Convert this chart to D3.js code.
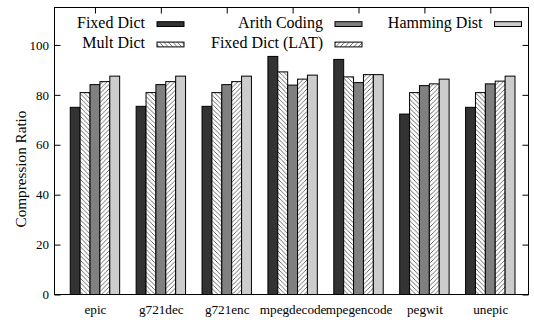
<!DOCTYPE html>
<html>
<head>
<meta charset="utf-8">
<script src="https://cdn.jsdelivr.net/npm/d3@7/dist/d3.min.js"></script>
<style>
  html, body { margin: 0; padding: 0; background: #fff; }
  svg { display: block; }
  svg text { font-family: "Liberation Serif", "Tinos", "Times New Roman", Times, "DejaVu Serif", serif !important; fill: #000; }
</style>
</head>
<body>
<svg id="chart" width="534" height="322"></svg>
<script>
// Benchmarks along the x axis
const categories = ["epic", "g721dec", "g721enc", "mpegdecode", "mpegencode", "pegwit", "unepic"];

// Compression ratio (%) per scheme, one value per benchmark
const fixedDict    = [75.0, 75.4, 75.4, 95.4, 94.2, 72.3, 75.0];
const multDict     = [80.9, 80.9, 80.9, 89.2, 87.2, 80.9, 80.9];
const arithCoding  = [84.1, 84.1, 84.1, 83.9, 84.9, 83.7, 84.4];
const fixedDictLat = [85.3, 85.3, 85.3, 86.3, 88.1, 84.4, 85.5];
const hammingDist  = [87.5, 87.5, 87.5, 87.9, 88.1, 86.3, 87.5];

const seriesNames = ["Fixed Dict", "Mult Dict", "Arith Coding", "Fixed Dict (LAT)", "Hamming Dist"];
const seriesValues = [fixedDict, multDict, arithCoding, fixedDictLat, hammingDist];
const yTicks = [0, 20, 40, 60, 80, 100];

const fills = ["#333333", "url(#hatchBack)", "#808080", "url(#hatchFwd)", "#cccccc"];

const svg = d3.select("#chart");
const plotL = 54.5, plotR = 528.5, plotT = 7.5, plotB = 294.5;

// hatch patterns
const defs = svg.append("defs");
function hatch(id, dir) {
  const p = defs.append("pattern")
    .attr("id", id).attr("patternUnits", "userSpaceOnUse")
    .attr("width", 4.5).attr("height", 4.5);
  p.append("rect").attr("width", 4.5).attr("height", 4.5).attr("fill", "#fff");
  const d = dir > 0
    ? "M-1,5.5 L5.5,-1 M-1,1 L1,-1 M3.5,5.5 L5.5,3.5"
    : "M-1,-1 L5.5,5.5 M3.5,-1 L5.5,1 M-1,3.5 L1,5.5";
  p.append("path").attr("d", d).attr("stroke", "#444").attr("stroke-width", 0.8);
}
hatch("hatchBack", -1);
hatch("hatchFwd", 1);

const x = d3.scaleLinear().domain([-0.614, 6.58]).range([plotL, plotR]);
const y = d3.scaleLinear().domain([0, 115]).range([plotB, plotT]);
const barW = 0.15;
const offsets = seriesNames.map((_, j) => (j - 2) * barW);

// axes ticks (inward, mirrored)
const tickLen = 6;
const yAxisL = d3.axisLeft(y).tickValues(yTicks).tickSize(-tickLen).tickPadding(5.5);
const gL = svg.append("g").attr("transform", `translate(${plotL},0)`).call(yAxisL);
const yAxisR = d3.axisRight(y).tickValues(yTicks).tickSize(-tickLen).tickFormat("");
const gR = svg.append("g").attr("transform", `translate(${plotR},0)`).call(yAxisR);
const xAxisT = d3.axisTop(x).tickValues(d3.range(categories.length)).tickSize(-tickLen).tickFormat("");
const gT = svg.append("g").attr("transform", `translate(0,${plotT})`).call(xAxisT);
const xAxisB = d3.axisBottom(x).tickValues(d3.range(categories.length)).tickSize(-tickLen)
  .tickFormat(i => categories[i]);
const gB = svg.append("g").attr("transform", `translate(0,${plotB})`).call(xAxisB);
[gL, gR, gT, gB].forEach(g => {
  g.attr("font-family", null);
  g.select(".domain").remove();
  g.selectAll("line").attr("stroke", "#000").attr("stroke-width", 1);
  g.selectAll("text").attr("fill", "#000");
});
gL.selectAll("text").attr("font-size", 13);
gB.selectAll("text").attr("font-size", 13.2).attr("y", 19.5).attr("dy", 0);

// bars
seriesValues.forEach((vals, j) => {
  svg.append("g").selectAll("rect").data(vals).join("rect")
    .attr("x", (v, i) => x(i + offsets[j] - barW / 2))
    .attr("width", x(barW) - x(0))
    .attr("y", v => y(v))
    .attr("height", v => y(0) - y(v))
    .attr("fill", fills[j])
    .attr("stroke", "#000").attr("stroke-width", 1);
});

// frame
svg.append("rect").attr("x", plotL).attr("y", plotT)
  .attr("width", plotR - plotL).attr("height", plotB - plotT)
  .attr("fill", "none").attr("stroke", "#000").attr("stroke-width", 1);

// y title
svg.append("text")
  .attr("transform", "translate(25.5,169) rotate(-90)")
  .attr("text-anchor", "middle")
  .attr("font-size", 15.2)
  .text("Compression Ratio");

// legend: 3 columns x 2 rows, filled column by column
const legendTextEnd = [145, 323, 482.5];
const legendRowY = [28, 48.4];
seriesNames.forEach((name, j) => {
  const col = Math.floor(j / 2), row = j % 2;
  const g = svg.append("g");
  g.append("text")
    .attr("x", legendTextEnd[col]).attr("y", legendRowY[row])
    .attr("text-anchor", "end").attr("font-size", 16)
    .text(name);
  g.append("rect")
    .attr("x", legendTextEnd[col] + 12).attr("y", legendRowY[row] - 6.3)
    .attr("width", 27).attr("height", 4.8)
    .attr("fill", fills[j]).attr("stroke", "#000").attr("stroke-width", 1);
});
</script>
</body>
</html>
